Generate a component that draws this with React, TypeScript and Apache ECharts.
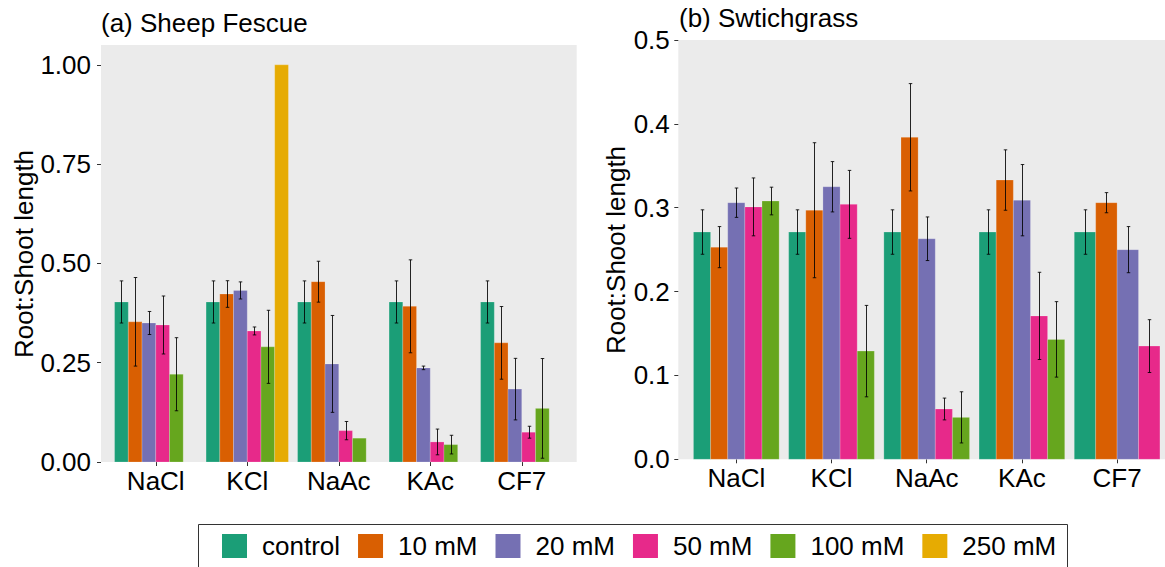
import React, { useEffect, useRef } from "react";
import * as echarts from "echarts";

// Categories and treatment levels
const SALTS = ["NaCl", "KCl", "NaAc", "KAc", "CF7"];
const LEVELS = ["control", "10 mM", "20 mM", "50 mM", "100 mM", "250 mM"];
const COLORS = ["#1B9E77", "#D95F02", "#7570B3", "#E7298A", "#66A61E", "#E6AB02"];

// (a) Sheep Fescue: mean root:shoot length per salt, one array per level
const FESCUE_CONTROL = [0.403, 0.403, 0.403, 0.403, 0.403];
const FESCUE_10 = [0.353, 0.423, 0.454, 0.392, 0.3];
const FESCUE_20 = [0.35, 0.432, 0.247, 0.237, 0.1835];
const FESCUE_50 = [0.345, 0.33, 0.079, 0.0505, 0.075];
const FESCUE_100 = [0.221, 0.29, 0.06, 0.0438, 0.135];
const FESCUE_250 = [null, 1.0, null, null, null];
// standard errors (null = no error bar)
const FESCUE_CONTROL_SE = [0.053, 0.053, 0.053, 0.053, 0.053];
const FESCUE_10_SE = [0.1115, 0.0335, 0.0515, 0.117, 0.0915];
const FESCUE_20_SE = [0.029, 0.0215, 0.122, 0.0045, 0.0775];
const FESCUE_50_SE = [0.073, 0.01, 0.023, 0.0324, 0.015];
const FESCUE_100_SE = [0.092, 0.092, null, 0.0235, 0.1255];
const FESCUE_250_SE = [null, null, null, null, null];
const FESCUE_TICKS = [0, 0.25, 0.5, 0.75, 1.0];

// (b) Switchgrass
const SWITCH_CONTROL = [0.271, 0.271, 0.271, 0.271, 0.271];
const SWITCH_10 = [0.253, 0.297, 0.384, 0.333, 0.306];
const SWITCH_20 = [0.306, 0.325, 0.263, 0.309, 0.25];
const SWITCH_50 = [0.301, 0.304, 0.06, 0.171, 0.135];
const SWITCH_100 = [0.308, 0.129, 0.05, 0.143, null];
const SWITCH_CONTROL_SE = [0.0265, 0.0265, 0.0265, 0.0265, 0.0265];
const SWITCH_10_SE = [0.0245, 0.0805, 0.064, 0.036, 0.012];
const SWITCH_20_SE = [0.0175, 0.03, 0.026, 0.0425, 0.0275];
const SWITCH_50_SE = [0.0345, 0.0405, 0.013, 0.052, 0.0315];
const SWITCH_100_SE = [0.0165, 0.0545, 0.0305, 0.045, null];

const FESCUE_MEANS = [FESCUE_CONTROL, FESCUE_10, FESCUE_20, FESCUE_50, FESCUE_100, FESCUE_250];
const FESCUE_SES = [FESCUE_CONTROL_SE, FESCUE_10_SE, FESCUE_20_SE, FESCUE_50_SE, FESCUE_100_SE, FESCUE_250_SE];
const SWITCH_MEANS = [SWITCH_CONTROL, SWITCH_10, SWITCH_20, SWITCH_50, SWITCH_100];
const SWITCH_SES = [SWITCH_CONTROL_SE, SWITCH_10_SE, SWITCH_20_SE, SWITCH_50_SE, SWITCH_100_SE];

const FONT = '"Liberation Sans", Arial, Helvetica, sans-serif';
const GRAY_BG = "#EBEBEB";

type Meta = { slot: number; n: number; se: number | null };

// Builds one custom bar+errorbar series for a level in a panel.
// fixedSlots: every level keeps its own slot; otherwise bars present in a
// category share the dodge width equally.
function buildSeries(
  panel: number,
  level: number,
  means: (number | null)[][],
  ses: (number | null)[][],
  fixedSlots: boolean
) {
  const data: number[][] = [];
  const metas: Meta[] = [];
  SALTS.forEach((_, c) => {
    const m = means[level][c];
    if (m == null) return;
    let slot = level;
    let n = means.length;
    if (!fixedSlots) {
      const present = means.map((arr) => arr[c] != null);
      n = present.filter(Boolean).length;
      slot = present.slice(0, level).filter(Boolean).length;
    }
    data.push([c, m]);
    metas.push({ slot, n, se: ses[level][c] });
  });
  const color = COLORS[level];
  return {
    type: "custom",
    name: LEVELS[level],
    xAxisIndex: panel,
    yAxisIndex: panel,
    itemStyle: { color },
    encode: { x: 0, y: 1 },
    data,
    renderItem: (params: any, api: any) => {
      const cat = api.value(0);
      const mean = api.value(1);
      const meta = metas[params.dataIndex];
      const base = api.coord([cat, 0]);
      const top = api.coord([cat, mean]);
      const band = api.size([1, 0])[0];
      const groupW = band * 0.9;
      const barW = groupW / meta.n;
      const x = base[0] - groupW / 2 + meta.slot * barW;
      const children: any[] = [
        {
          type: "rect",
          shape: { x, y: top[1], width: barW, height: base[1] - top[1] },
          style: { fill: color, stroke: "rgba(255,255,255,0.25)", lineWidth: 0.8 },
        },
      ];
      if (meta.se != null) {
        const cx = Math.round(x + barW / 2) + 0.5;
        const hi = api.coord([cat, mean + meta.se])[1];
        const lo = api.coord([cat, mean - meta.se])[1];
        const cap = 1.75;
        const ls = { stroke: "#000", lineWidth: 1, opacity: 0.85 };
        children.push(
          { type: "line", shape: { x1: cx, y1: hi, x2: cx, y2: lo }, style: ls },
          { type: "line", shape: { x1: cx - cap, y1: hi, x2: cx + cap, y2: hi }, style: ls },
          { type: "line", shape: { x1: cx - cap, y1: lo, x2: cx + cap, y2: lo }, style: ls }
        );
      }
      return { type: "group", children };
    },
  };
}

function xAxis(gridIndex: number) {
  return {
    type: "category",
    gridIndex,
    data: SALTS,
    boundaryGap: true,
    axisLine: { show: false },
    axisTick: { show: true, alignWithLabel: true, length: 4, lineStyle: { color: "#333" } },
    axisLabel: { fontSize: 26, color: "#000", fontFamily: FONT, margin: 6 },
    splitLine: { show: false },
  };
}

export default function App() {
  const ref = useRef<HTMLDivElement>(null);

  useEffect(() => {
    if (!ref.current) return;
    const chart = echarts.init(ref.current, undefined, { renderer: "svg" });

    const series: any[] = [];
    FESCUE_MEANS.forEach((_, k) => series.push(buildSeries(0, k, FESCUE_MEANS, FESCUE_SES, true)));
    SWITCH_MEANS.forEach((_, k) => series.push(buildSeries(1, k, SWITCH_MEANS, SWITCH_SES, false)));

    chart.setOption({
      animation: false,
      textStyle: { fontFamily: FONT },
      grid: [
        { left: 110, top: 45, width: 457.5, height: 417 },
        { left: 688.7, top: 40, width: 476, height: 419.3 },
      ],
      xAxis: [xAxis(0), xAxis(1)],
      yAxis: [
        {
          type: "value",
          gridIndex: 0,
          min: 0,
          max: 1.05,
          offset: 9,
          axisLine: { show: false },
          axisTick: { show: true, length: 4, lineStyle: { color: "#333" }, customValues: FESCUE_TICKS },
          axisLabel: {
            customValues: FESCUE_TICKS,
            formatter: (v: number) => v.toFixed(2),
            fontSize: 26,
            color: "#000",
            fontFamily: FONT,
            margin: 10,
          },
          splitLine: { show: false },
        },
        {
          type: "value",
          gridIndex: 1,
          min: 0,
          max: 0.5,
          interval: 0.1,
          offset: 10.4,
          axisLine: { show: false },
          axisTick: { show: true, length: 4, lineStyle: { color: "#333" } },
          axisLabel: {
            formatter: (v: number) => v.toFixed(1),
            fontSize: 26,
            color: "#000",
            fontFamily: FONT,
            margin: 8.5,
          },
          splitLine: { show: false },
        },
      ],
      legend: {
        data: LEVELS,
        left: 222,
        top: 533,
        padding: 0,
        icon: "rect",
        itemWidth: 25,
        itemHeight: 24,
        itemGap: 18,
        selectedMode: false,
        textStyle: { fontSize: 26, color: "#000", fontFamily: FONT, padding: [0, 0, 0, 10] },
      },
      graphic: [
        { type: "rect", z: -10, shape: { x: 101, y: 45, width: 475.7, height: 417 }, style: { fill: GRAY_BG } },
        { type: "rect", z: -10, shape: { x: 678.3, y: 40, width: 490, height: 419.3 }, style: { fill: GRAY_BG } },
        {
          type: "text",
          x: 101,
          y: 23,
          style: { text: "(a) Sheep Fescue", fontSize: 26, fontFamily: FONT, fill: "#000", align: "left", verticalAlign: "middle" },
        },
        {
          type: "text",
          x: 679,
          y: 18,
          style: { text: "(b) Swtichgrass", fontSize: 26, fontFamily: FONT, fill: "#000", align: "left", verticalAlign: "middle" },
        },
        {
          type: "text",
          x: 24,
          y: 254,
          rotation: Math.PI / 2,
          style: { text: "Root:Shoot length", fontSize: 26, fontFamily: FONT, fill: "#000", align: "center", verticalAlign: "middle" },
        },
        {
          type: "text",
          x: 616,
          y: 250,
          rotation: Math.PI / 2,
          style: { text: "Root:Shoot length", fontSize: 26, fontFamily: FONT, fill: "#000", align: "center", verticalAlign: "middle" },
        },
        {
          type: "rect",
          shape: { x: 198.5, y: 524.5, width: 869, height: 50 },
          style: { fill: "none", stroke: "#333", lineWidth: 1 },
        },
      ],
      series,
    });

    return () => chart.dispose();
  }, []);

  return (
    <div
      ref={ref}
      style={{ position: "fixed", left: 0, top: 0, width: 1165, height: 567, background: "#fff" }}
    />
  );
}
